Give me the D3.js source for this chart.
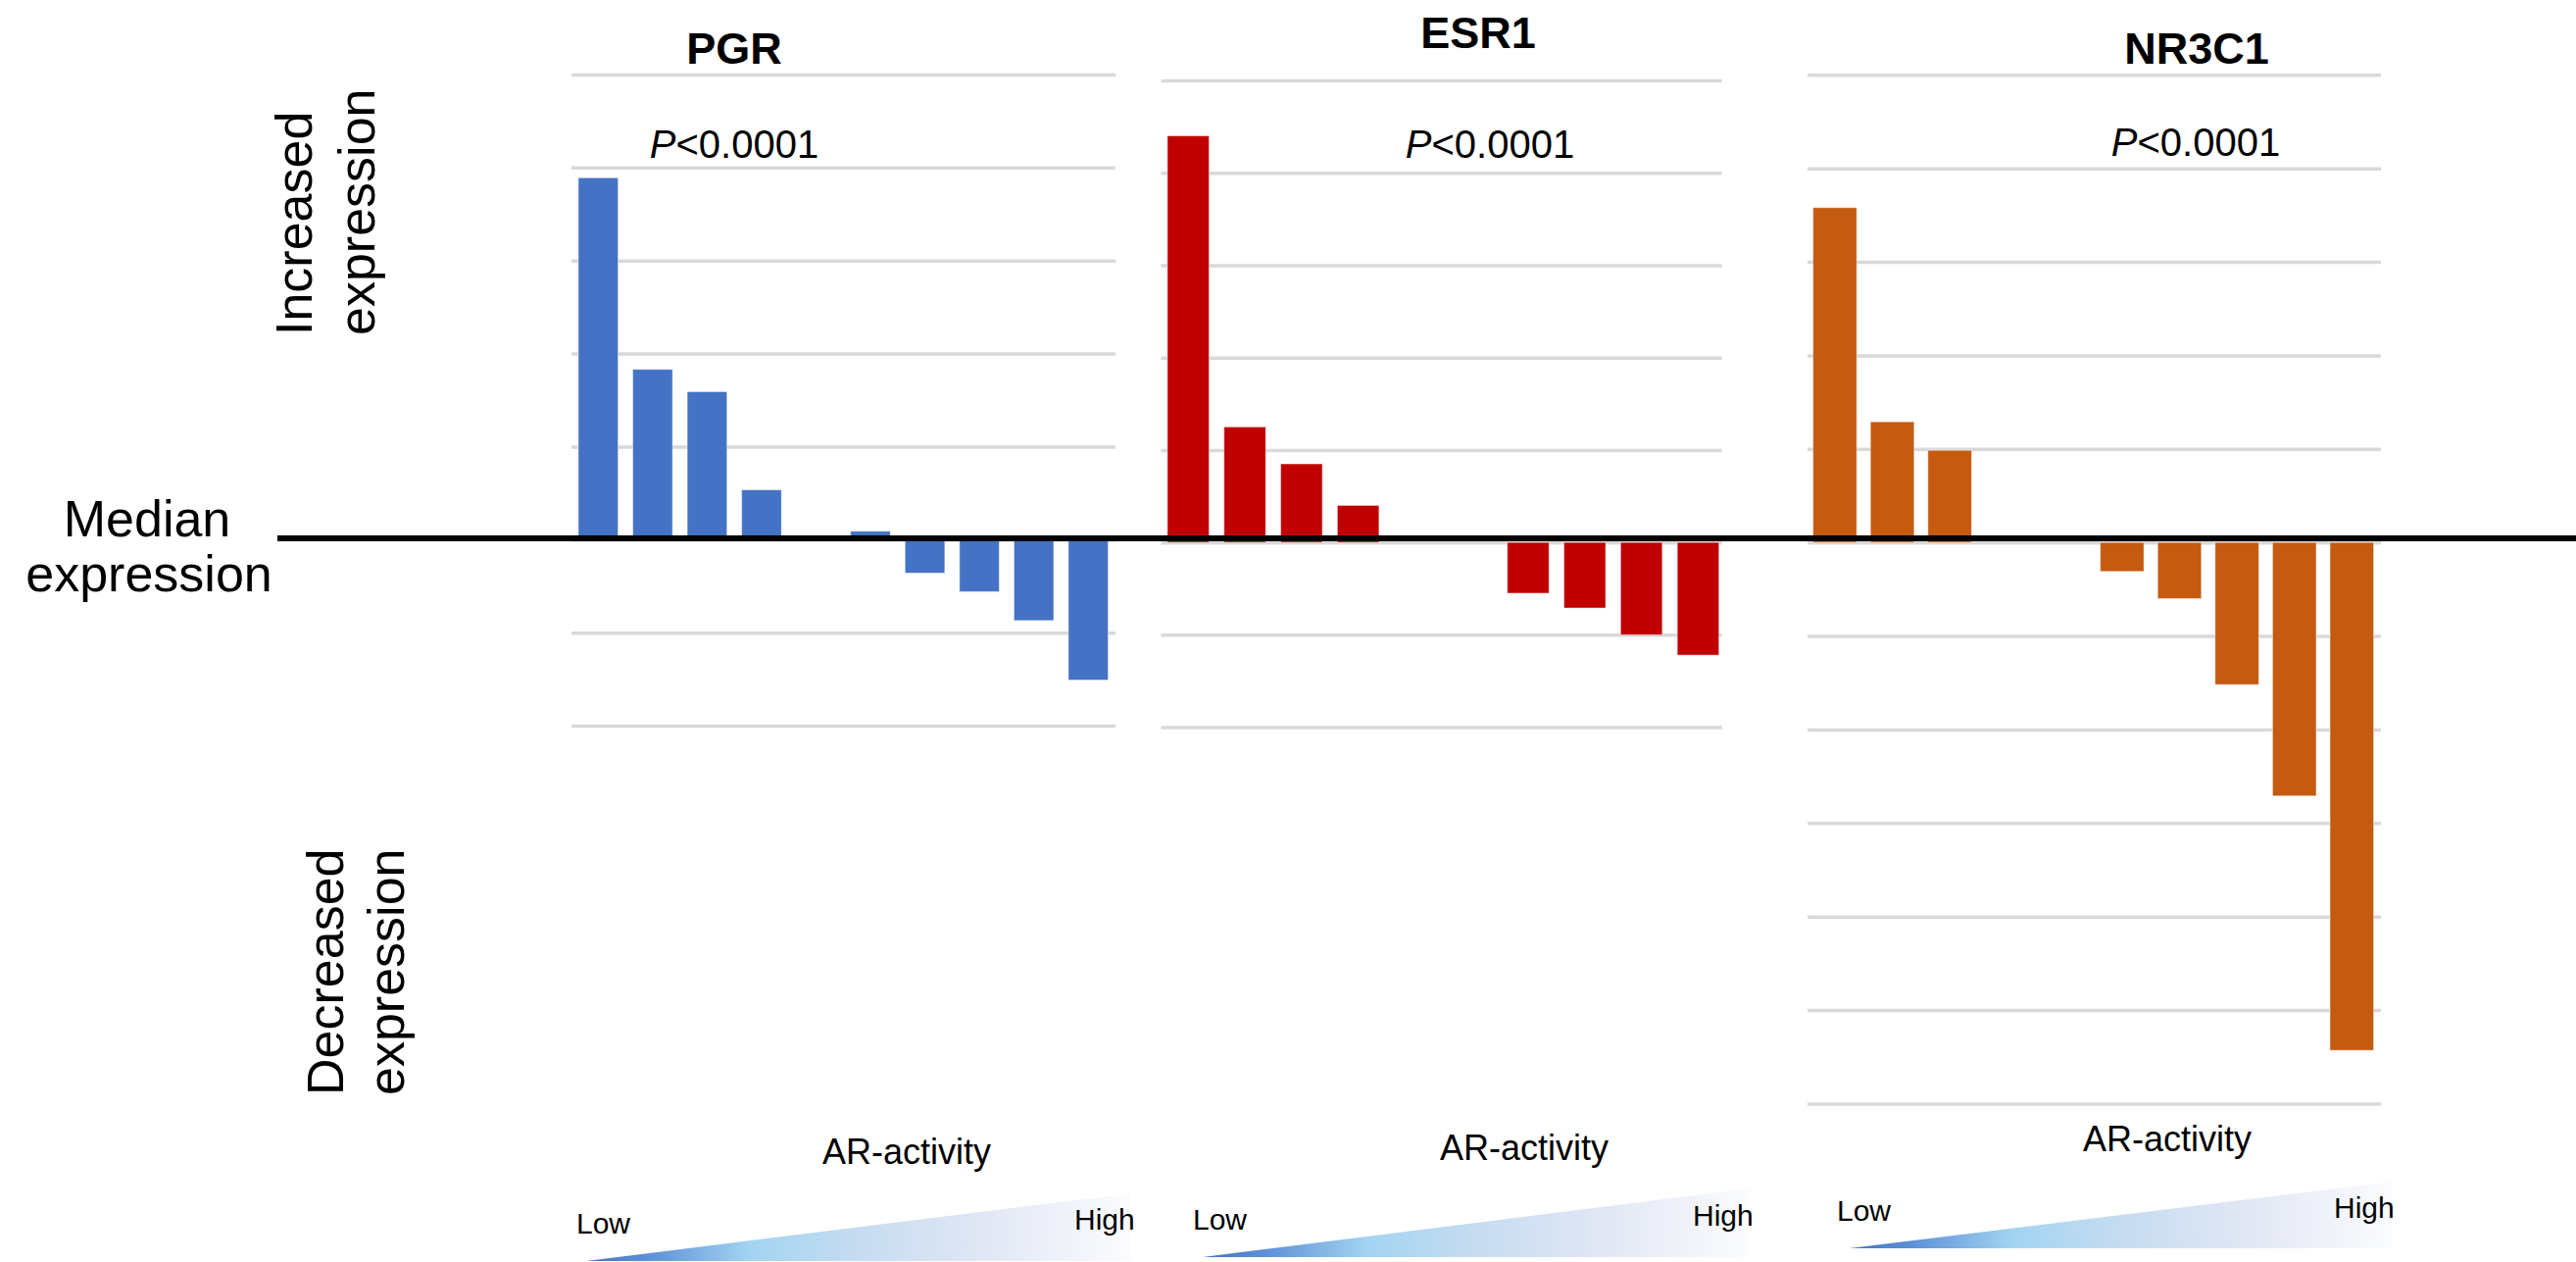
<!DOCTYPE html>
<html>
<head>
<meta charset="utf-8">
<script src="https://cdn.jsdelivr.net/npm/d3@7"></script>
<style>
  html, body { margin: 0; padding: 0; background: #ffffff; }
  svg { display: block; }
  text { font-family: "Liberation Sans", Arial, Helvetica, sans-serif; fill: #000; }
</style>
</head>
<body>
<svg id="chart" width="2628" height="1287"></svg>
<script>
// ---------------- DATA ----------------
const categories = ["1","2","3","4","5","6","7","8","9","10"];   // AR-activity rank, low -> high
const genes = ["PGR", "ESR1", "NR3C1"];
const pgrValues   = [3.89, 1.83, 1.59, 0.535, 0, 0.09, -0.36, -0.56, -0.87, -1.51];
const esr1Values  = [4.40, 1.25, 0.85, 0.40, 0, 0, -0.55, -0.71, -1.00, -1.22];
const nr3c1Values = [3.58, 1.29, 0.985, 0, 0, -0.31, -0.60, -1.52, -2.71, -5.43];
const pgrTicks   = [-2, -1, 0, 1, 2, 3, 4, 5];
const esr1Ticks  = [-2, -1, 0, 1, 2, 3, 4, 5];
const nr3c1Ticks = [-6, -5, -4, -3, -2, -1, 0, 1, 2, 3, 4, 5];
const pValueText = "<0.0001";
const colors = ["#4472C4", "#C00000", "#C55A11"];

// ---------------- LAYOUT ----------------
const svg = d3.select("#chart");

const panels = [
  { name: genes[0], values: pgrValues, ticks: pgrTicks, color: colors[0],
    domain: [-2, 5], yRange: [740, 76], band: [582.5, 1138], pad: 0.27, grid: [583, 1138],
    title: [749, 65], pval: [749, 161], ar: [925, 1187],
    low: [588, 1258], high: [1096, 1254], tri: [598, 1153, 1286, 1217] },
  { name: genes[1], values: esr1Values, ticks: esr1Ticks, color: colors[1],
    domain: [-2, 5], yRange: [741.6, 82], band: [1183.3, 1761.3], pad: 0.265, grid: [1184.5, 1756.7],
    title: [1508, 48.5], pval: [1520, 161], ar: [1555, 1183],
    low: [1217, 1254], high: [1727, 1250], tri: [1227, 1784, 1282, 1212] },
  { name: genes[2], values: nr3c1Values, ticks: nr3c1Ticks, color: colors[2],
    domain: [-6, 5], yRange: [1125.5, 76.3], band: [1842.6, 2428.6], pad: 0.24, grid: [1844, 2429],
    title: [2241, 64.5], pval: [2240, 159], ar: [2211, 1174],
    low: [1874, 1245], high: [2381, 1242], tri: [1887, 2441, 1273, 1205] }
];

// gradient for AR-activity wedges
const defs = svg.append("defs");
const grad = defs.append("linearGradient").attr("id", "arGrad")
  .attr("x1", "0%").attr("y1", "0%").attr("x2", "100%").attr("y2", "0%");
[[0, "#4472c4"], [0.12, "#5f92d8"], [0.3, "#a2d4f2"], [0.5, "#c6dcf1"], [0.75, "#e3e8f5"], [1, "#fbfcfe"]]
  .forEach(([o, c]) => grad.append("stop").attr("offset", o).attr("stop-color", c));

panels.forEach(p => {
  const g = svg.append("g");
  const x = d3.scaleBand().domain(categories).range(p.band)
    .paddingInner(p.pad).paddingOuter(p.pad / 2);
  const y = d3.scaleLinear().domain(p.domain).range(p.yRange);

  // gridlines via axis
  const axis = d3.axisLeft(y).tickValues(p.ticks)
    .tickSize(-(p.grid[1] - p.grid[0])).tickFormat("");
  const ga = g.append("g").attr("transform", `translate(${p.grid[0]},0)`).call(axis);
  ga.select(".domain").remove();
  ga.selectAll(".tick line").attr("stroke", "#d9d9d9").attr("stroke-width", 3.5);

  // bars
  g.selectAll("rect.bar").data(p.values.map((v, i) => ({ c: categories[i], v })))
    .join("rect").attr("class", "bar")
    .attr("x", d => x(d.c))
    .attr("width", x.bandwidth())
    .attr("y", d => y(Math.max(0, d.v)))
    .attr("height", d => Math.abs(y(d.v) - y(0)))
    .attr("fill", p.color)
    .attr("stroke", "rgba(255,255,255,0.45)").attr("stroke-width", 1);

  // title
  g.append("text").attr("x", p.title[0]).attr("y", p.title[1])
    .attr("text-anchor", "middle").attr("font-size", 45).attr("font-weight", "bold")
    .text(p.name);

  // p value
  const pt = g.append("text").attr("x", p.pval[0]).attr("y", p.pval[1])
    .attr("text-anchor", "middle").attr("font-size", 40);
  pt.append("tspan").attr("font-style", "italic").text("P");
  pt.append("tspan").text(pValueText);

  // AR-activity wedge
  const t = p.tri;
  g.append("path")
    .attr("d", `M${t[0]},${t[2]} L${t[1]},${t[2]} L${t[1]},${t[3]} Z`)
    .attr("fill", "url(#arGrad)");

  g.append("text").attr("x", p.ar[0]).attr("y", p.ar[1])
    .attr("text-anchor", "middle").attr("font-size", 36).text("AR-activity");
  g.append("text").attr("x", p.low[0]).attr("y", p.low[1])
    .attr("font-size", 30).text("Low");
  g.append("text").attr("x", p.high[0]).attr("y", p.high[1])
    .attr("font-size", 30).text("High");
});

// median line
svg.append("line").attr("x1", 283).attr("x2", 2628).attr("y1", 549).attr("y2", 549)
  .attr("stroke", "#000").attr("stroke-width", 6);

// left side labels
const left = svg.append("g");
left.append("text").attr("x", 150).attr("y", 547).attr("text-anchor", "middle")
  .attr("font-size", 52).text("Median");
left.append("text").attr("x", 152).attr("y", 603).attr("text-anchor", "middle")
  .attr("font-size", 52).text("expression");

[["Increased", 318, 342], ["expression", 382, 342], ["Decreased", 350, 1117], ["expression", 412, 1117]]
  .forEach(([txt, tx, ty]) => {
    left.append("text").attr("transform", `translate(${tx},${ty}) rotate(-90)`)
      .attr("font-size", 52).text(txt);
  });
</script>
</body>
</html>
